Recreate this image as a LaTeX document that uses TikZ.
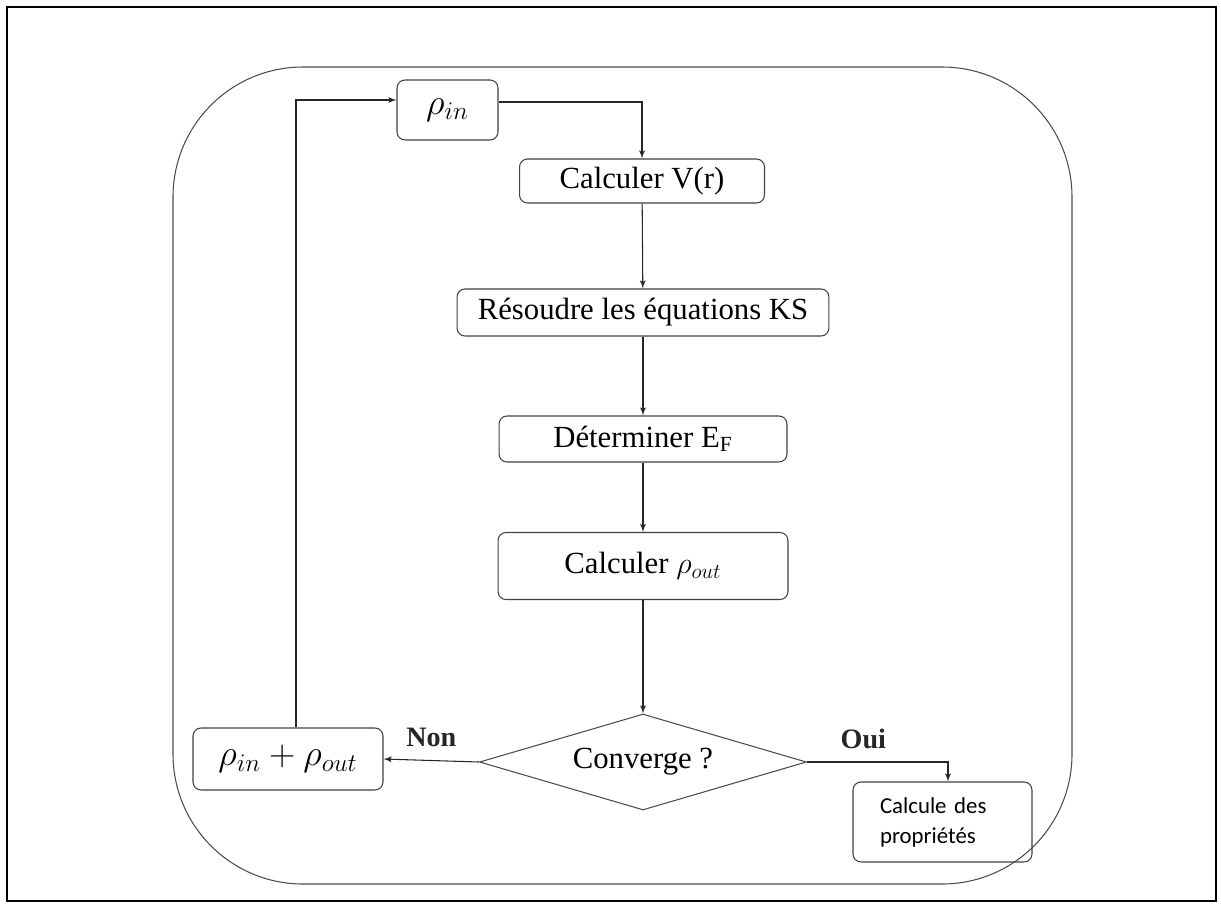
\documentclass[tikz,border=0pt]{standalone}
\usepackage{fontspec}
\setmainfont{Liberation Serif}
\newfontfamily\calibfont{Carlito}
\usetikzlibrary{shapes,arrows}
\tikzstyle{block} = [rectangle, draw=black!75, semithick, rounded corners=0.16cm,
    text centered, inner sep=2pt, font=\fontsize{17.5}{21}\selectfont]
\tikzstyle{decision} = [diamond, aspect=3.4, draw=black!70, semithick, inner sep=0pt,
    minimum width=6.54cm, minimum height=1.92cm, font=\fontsize{17.5}{21}\selectfont]
\tikzstyle{line} = [draw, black!85, semithick, -latex']
\tikzstyle{lbl} = [font=\bfseries\fontsize{16}{19}\selectfont]

\begin{document}
\begin{tikzpicture}[x=0.02cm, y=-0.02cm]
	\useasboundingbox (0,0) rectangle (1221,904);
	\draw [line width=1.6pt] (7,7) rectangle (1216,901);
	\draw [black!70, semithick, rounded corners=2.6cm] (173,67) rectangle (1072,884);

		\node [block, minimum width=2.02cm, minimum height=1.2cm, font=\fontsize{21}{24}\selectfont] (rhoin) at (447.5,110) {$\rho_{in}$};
		\node [block, minimum width=4.9cm, minimum height=0.88cm] (calcV) at (642,181) {Calculer V(r)};
		\node [block, minimum width=7.44cm, minimum height=0.94cm] (resoudre) at (643,312.5) {Résoudre les équations KS};
		\node [block, minimum width=5.76cm, minimum height=0.92cm] (determiner) at (643,439) {Déterminer E\textsubscript{F}};
		\node [block, minimum width=5.8cm, minimum height=1.34cm] (calcrho) at (643,566) {Calculer $\rho_{out}$};
		\node [decision] (converge) at (643,762) {Converge ?};
		\node [block, minimum width=3.8cm, minimum height=1.24cm, font=\fontsize{21}{24}\selectfont] (rhosum) at (288,759) {$\rho_{in}+\rho_{out}$};
		\node [block, minimum width=3.58cm, minimum height=1.6cm, align=left, text width=2.5cm, font=\calibfont\fontsize{13}{17}\selectfont] (calcprop) at (942.5,822) {Calcule des\\propriétés};

		\path [line] (calcV) -- (resoudre);
		\path [line] (resoudre) -- (determiner);
		\path [line] (determiner) -- (calcrho);
		\path [line] (calcrho) -- (converge);
		\path [line] (converge.west) -- node[lbl, above=4pt] {Non} (rhosum.east);
		\path [line] (converge.east) -| node[lbl, pos=0.2, above=4pt] {Oui} ([xshift=0.11cm]calcprop.north);
		\path [line] ([xshift=0.16cm]rhosum.north) |- ([yshift=0.2cm]rhoin.west);
		\path [line] ([yshift=0.16cm]rhoin.east) -| (calcV.north);
	\end{tikzpicture}
\end{document}
